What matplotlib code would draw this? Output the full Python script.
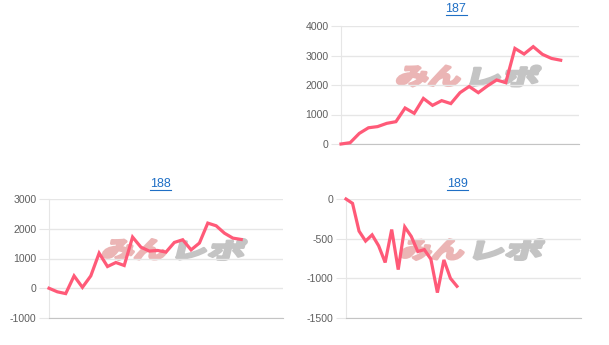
import matplotlib
matplotlib.use("Agg")
import matplotlib.pyplot as plt
from matplotlib.lines import Line2D
from matplotlib.patches import PathPatch
from matplotlib.textpath import TextPath
from matplotlib.font_manager import FontProperties
from matplotlib.transforms import Affine2D

plt.rcParams["axes.unicode_minus"] = False

W, H = 609, 345

# data (one value per game/step)
titles = ["187", "188", "189"]
vals_187 = [0, 45, 360, 550, 590, 700, 757, 1220, 1040, 1545, 1310, 1470, 1370,
            1740, 1950, 1740, 1970, 2170, 2080, 3240, 3050, 3300, 3040, 2900, 2840]
vals_188 = [0, -120, -180, 415, 30, 415, 1180, 730, 865, 765, 1720, 1380, 1250,
            1270, 1215, 1540, 1630, 1290, 1520, 2190, 2100, 1850, 1685, 1640]
vals_189 = [0, -55, -405, -530, -452, -590, -800, -385, -890, -352, -472, -662,
            -638, -758, -1180, -768, -1000, -1100]
n_labels = [27, 29, 37]
yticks = [[0, 1000, 2000, 3000, 4000],
          [-1000, 0, 1000, 2000, 3000],
          [-1500, -1000, -500, 0]]

# chart areas in pixels: left, top, right, bottom
boxes = [(341, 26, 579, 144), (49, 199, 283, 318), (346, 199, 581, 318)]
title_pos = [(456, 9.5), (160, 184), (457, 184)]

LINE = "#ff5a78"
GRID = "#e6e6e6"
AXIS = "#c4c4c4"
LABEL = "#5f5f5f"

fig = plt.figure(figsize=(W / 100, H / 100), dpi=100)
fp = FontProperties(family="Noto Sans CJK JP", weight="bold")


def watermark(cx, cy):
    # two-tone slanted logo behind the plot
    parts = [("みん", "#ebb5b5", cx - 70, 62), ("レポ", "#c4c4c4", cx + 4, 66)]
    for txt, col, x0, w in parts:
        p = TextPath((0, 0), txt, size=1, prop=fp)
        e = p.get_extents()
        h = 20
        tr = (Affine2D().translate(-e.x0, -e.y0)
              .scale(w / e.width, h / e.height)
              .skew_deg(14, 0)
              .translate(x0 - 3, H - cy - h / 2))
        patch = PathPatch(tr.transform_path(p), facecolor=col, edgecolor=col,
                          lw=2.2, joinstyle="round", zorder=0.5, transform=None)
        fig.add_artist(patch)


all_vals = [vals_187, vals_188, vals_189]
for i in range(3):
    l, t, r, b = boxes[i]
    ax = fig.add_axes([l / W, 1 - b / H, (r - l) / W, (b - t) / H])
    ax.patch.set_alpha(0)
    ax.set_zorder(2)
    v = all_vals[i]
    ax.plot(range(len(v)), v, color=LINE, lw=2.3, solid_joinstyle="miter",
            zorder=3, clip_on=False)
    ax.set_xlim(0, n_labels[i] - 1)
    ax.set_ylim(yticks[i][0], yticks[i][-1])
    ax.set_yticks(yticks[i])
    ax.set_xticks([])
    ax.grid(axis="y", color=GRID, lw=1)
    ax.set_axisbelow(True)
    for s in ["top", "right"]:
        ax.spines[s].set_visible(False)
    ax.spines["left"].set_color(GRID)
    ax.spines["bottom"].set_color(AXIS)
    ax.tick_params(axis="y", length=7, color=GRID, pad=2, labelsize=7.6,
                   labelcolor=LABEL)
    for lab in ax.get_yticklabels():
        lab.set_family("Liberation Sans")
    watermark((l + r) / 2 + 9, (t + b) / 2 - 9)

    tx, ty = title_pos[i]
    fig.text(tx / W, 1 - ty / H, titles[i], ha="center", va="center",
             color="#1f6fc5", fontsize=9, family="Liberation Sans")
    fig.add_artist(Line2D([(tx - 10.5) / W, (tx + 10.5) / W],
                          [1 - (ty + 5.5) / H, 1 - (ty + 5.5) / H],
                          color="#1f6fc5", lw=0.8))

fig.savefig("out.png", dpi=100)
